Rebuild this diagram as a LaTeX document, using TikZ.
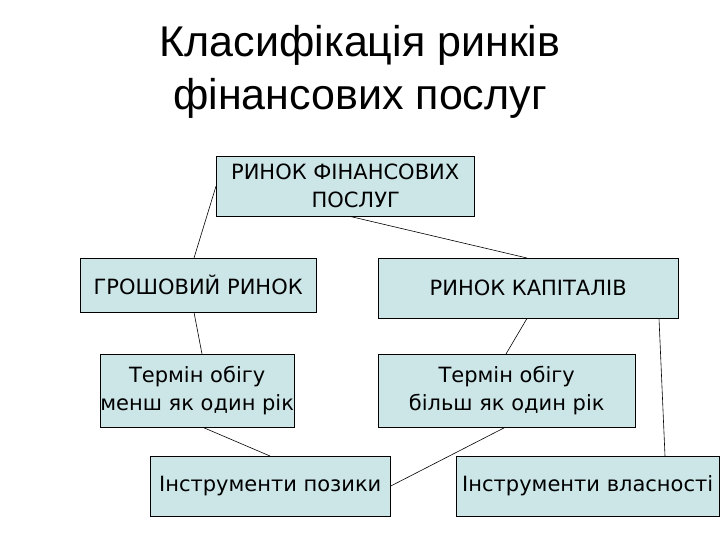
\documentclass[tikz,border=0pt]{standalone}
\usepackage{fontspec}
\setmainfont{Liberation Sans}
\newfontfamily\boxfont{DejaVu Sans}
\definecolor{boxfill}{RGB}{204,230,232}
\begin{document}
\begin{tikzpicture}[x=1pt,y=-1pt,
  box/.style={draw=black,fill=boxfill,anchor=north west,align=center,inner sep=0pt,font=\boxfont\fontsize{21}{28}\selectfont},
  link/.style={draw=black,line width=0.6pt}]
\useasboundingbox (0,0) rectangle (720,540);
\node[font=\fontsize{43}{53}\selectfont,align=center] (title) at (360,72) {Класифікація ринків\\фінансових послуг};
\node[box,minimum width=258,minimum height=60] (b1) at (216,156) {РИНОК ФІНАНСОВИХ\\\hspace*{1em}ПОСЛУГ};
\node[box,minimum width=236,minimum height=54] (b2) at (80,258) {ГРОШОВИЙ РИНОК};
\node[box,minimum width=300,minimum height=60] (b3) at (378,258) {РИНОК КАПІТАЛІВ};
\node[box,minimum width=194,minimum height=73] (b4) at (100,354) {Термін обігу\\менш як один рік};
\node[box,minimum width=257,minimum height=73] (b5) at (378,354) {Термін обігу\\більш як один рік};
\node[box,minimum width=240,minimum height=60] (b6) at (150,456) {Інструменти позики};
\node[box,minimum width=263,minimum height=60] (b7) at (456,456) {Інструменти власності};
\draw[link] (b1.west) -- ([xshift=114]b2.north west);
\draw[link] ([xshift=134]b1.south west) -- ([xshift=149]b3.north west);
\draw[link] ([xshift=114]b2.south west) -- ([xshift=102]b4.north west);
\draw[link] ([xshift=149]b3.south west) -- ([xshift=128]b5.north west);
\draw[link] ([xshift=281]b3.south west) -- ([xshift=209]b7.north west);
\draw[link] ([xshift=103]b4.south west) -- ([xshift=120]b6.north west);
\draw[link] ([xshift=127]b5.south west) -- (b6.east);
\end{tikzpicture}
\end{document}
